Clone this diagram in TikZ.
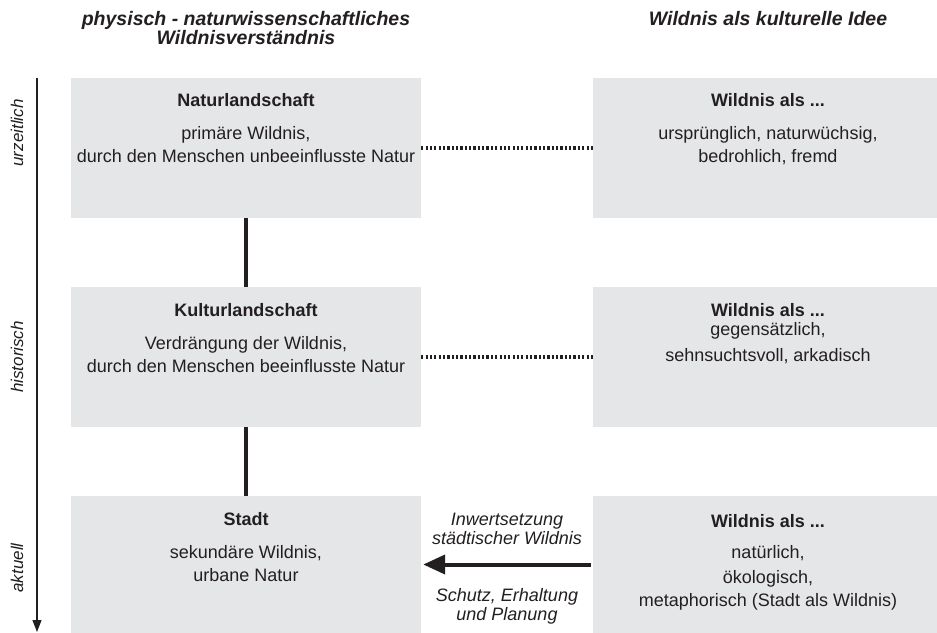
\documentclass[tikz,border=0pt]{standalone}
\usepackage{fontspec}
\setmainfont{Liberation Sans}
\usepackage{xcolor}
\usetikzlibrary{arrows.meta,positioning}

\definecolor{feldgrau}{RGB}{229,230,232}
\definecolor{schrift}{RGB}{35,31,32}

\begin{document}
\begin{tikzpicture}[
    x=1bp, y=-1bp,
    >={Triangle[length=22bp,width=19bp]},
    every node/.style={text=schrift},
    feld/.style={rectangle,fill=feldgrau,inner sep=0pt,minimum height=140bp},
    lfeld/.style={feld,minimum width=350bp},
    rfeld/.style={feld,minimum width=344bp},
    feldtext/.style={anchor=north,align=center,inner sep=0pt,
                     font=\fontsize{18bp}{23bp}\selectfont},
    kopf/.style={anchor=north,align=center,inner sep=0pt,
                 font=\fontsize{19.5bp}{19bp}\selectfont\bfseries\itshape},
    zeit/.style={rotate=90,inner sep=0pt,font=\fontsize{17bp}{20bp}\selectfont\itshape},
    pfeiltext/.style={anchor=north,align=center,inner sep=0pt,
                      font=\fontsize{18bp}{19bp}\selectfont\itshape},
    verbindung/.style={line width=4bp,draw=schrift},
    bezug/.style={line width=4bp,draw=schrift,dash pattern=on 2.2bp off 2.15bp},
    zeitachse/.style={line width=1.3bp,draw=schrift,-{Triangle[length=12bp,width=9bp]}},
  ]
  \useasboundingbox (0,0) rectangle (937,633);

  % --- column headings ---
  \node[kopf] (kopflinks)  at (246,11) {physisch - naturwissenschaftliches\\Wildnisverständnis};
  \node[kopf] (kopfrechts) at (768,11) {Wildnis als kulturelle Idee};

  % --- time axis on the far left ---
  \coordinate (zeitanfang) at (37,78);
  \coordinate (zeitende)   at (37,632);
  \draw[zeitachse] (zeitanfang) -- (zeitende);
  \node[zeit] (urzeit)   at (17,133) {urzeitlich};
  \node[zeit] (histor)   at (17,357) {historisch};
  \node[zeit] (aktuell)  at (17,568) {aktuell};

  % --- left column: physical understanding ---
  \node[lfeld] (natur)  at (246,148) {};
  \node[lfeld] (kultur) at (246,357) {};
  \node[lfeld,minimum height=137bp] (stadt) at (246,564.5) {};

  % --- right column: cultural idea ---
  \node[rfeld] (ideeA) at (765,148) {};
  \node[rfeld] (ideeB) at (765,357) {};
  \node[rfeld,minimum height=137bp] (ideeC) at (765,564.5) {};

  % --- box texts ---
  \node[feldtext] (naturtext) at (246,93)
    {\textbf{Naturlandschaft}\\[10bp]primäre Wildnis,\\durch den Menschen unbeeinflusste Natur};
  \node[feldtext] (kulturtext) at (246,303)
    {\textbf{Kulturlandschaft}\\[10bp]Verdrängung der Wildnis,\\durch den Menschen beeinflusste Natur};
  \node[feldtext] (stadttext) at (246,512)
    {\textbf{Stadt}\\[10bp]sekundäre Wildnis,\\urbane Natur};
  \node[feldtext] (ideeAtext) at (768,93)
    {\textbf{Wildnis als ...}\\[10bp]ursprünglich, naturwüchsig,\\bedrohlich, fremd};
  \node[feldtext] (ideeBtext) at (768,303)
    {\textbf{Wildnis als ...}\\[-4bp]gegensätzlich,\\[3bp]sehnsuchtsvoll, arkadisch};
  \node[feldtext] (ideeCtext) at (768,514)
    {\textbf{Wildnis als ...}\\[8bp]natürlich,\\[2bp]ökologisch,\\metaphorisch (Stadt als Wildnis)};

  % --- connectors ---
  \draw[verbindung] (natur) -- (kultur);
  \draw[verbindung] (kultur) -- (stadt);
  \draw[bezug] (natur) -- (ideeA);
  \draw[bezug] (kultur) -- (ideeB);
  \draw[verbindung,->,shorten >=2bp,shorten <=2bp] (ideeC) -- (stadt);

  % --- arrow labels ---
  \node[pfeiltext] (inwert) at (507,512.5) {Inwertsetzung\\städtischer Wildnis};
  \node[pfeiltext] (schutz) at (507,588)   {Schutz, Erhaltung\\und Planung};

\end{tikzpicture}
\end{document}
